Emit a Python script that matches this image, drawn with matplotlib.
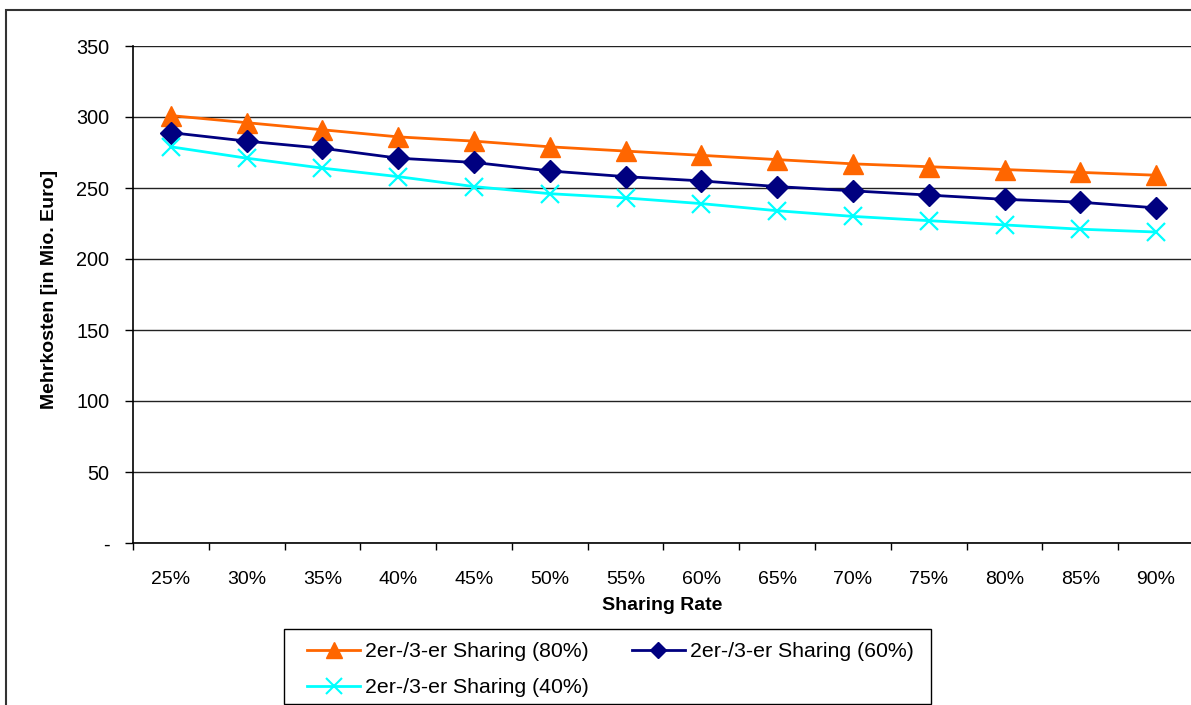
import matplotlib
matplotlib.use("Agg")
import matplotlib.pyplot as plt
from matplotlib.lines import Line2D
from matplotlib.patches import Rectangle

plt.rcParams['font.family'] = ['Liberation Sans', 'DejaVu Sans']

# Sharing rates on the category axis
categories = ["25%", "30%", "35%", "40%", "45%", "50%", "55%",
              "60%", "65%", "70%", "75%", "80%", "85%", "90%"]

# Additional costs in million euro per scenario
sharing_80 = [301, 296, 291, 286, 283, 279, 276, 273, 270, 267, 265, 263, 261, 259]
sharing_60 = [289, 283, 278, 271, 268, 262, 258, 255, 251, 248, 245, 242, 240, 236]
sharing_40 = [279, 271, 264, 258, 251, 246, 243, 239, 234, 230, 227, 224, 221, 219]

series_labels = ["2er-/3-er Sharing (80%)",
                 "2er-/3-er Sharing (60%)",
                 "2er-/3-er Sharing (40%)"]

y_ticks = [0, 50, 100, 150, 200, 250, 300, 350]
y_ticklabels = ["-", "50", "100", "150", "200", "250", "300", "350"]

W, H = 1191, 705
fig = plt.figure(figsize=(W / 100, H / 100), dpi=100)

# outer chart frame (right and bottom edges lie outside the canvas)
fig.patches.append(Rectangle((6 / W, -0.1), 1.2, 1 - 10 / H + 0.1,
                             transform=fig.transFigure, fill=False,
                             edgecolor="#333333", linewidth=1.5))

left, right, top, bottom = 133, 1194, 46, 543
ax = fig.add_axes([left / W, 1 - bottom / H, (right - left) / W, (bottom - top) / H])

x = list(range(len(categories)))
styles = [
    (sharing_80, "#FF6600", "^", 14, 1.0),
    (sharing_60, "#000080", "D", 11, 1.0),
    (sharing_40, "#00FFFF", "x", 13, 1.6),
]
for (vals, col, mk, ms, mew), lab in zip(styles, series_labels):
    ax.plot(x, vals, color=col, linewidth=2.0, marker=mk, markersize=ms,
            markeredgewidth=mew, markerfacecolor=col, markeredgecolor=col,
            label=lab, zorder=3)

ax.set_xlim(-0.5, len(categories) - 0.5)
ax.set_ylim(0, 350)
ax.set_yticks(y_ticks)
ax.set_yticklabels(y_ticklabels)
ax.set_xticks(x)
ax.set_xticklabels(categories)
ax.set_xticks([i - 0.5 for i in range(len(categories) + 1)], minor=True)
ax.tick_params(axis="x", which="major", length=0, pad=20, labelsize=14)
ax.tick_params(axis="x", which="minor", length=5, width=1, direction="out")
ax.tick_params(axis="y", length=6, width=1, direction="out", pad=11, labelsize=14.3)

ax.grid(axis="y", color="#222222", linewidth=1.0)
ax.set_axisbelow(True)
for s in ["top", "right"]:
    ax.spines[s].set_visible(False)
ax.spines["left"].set_linewidth(1.2)
ax.spines["bottom"].set_linewidth(1.2)

ax.set_ylabel("Mehrkosten [in Mio. Euro]", fontsize=14, fontweight="bold")
ax.yaxis.set_label_coords((50 - left) / (right - left), (bottom - 289) / (bottom - top))
ax.set_xlabel("Sharing Rate", fontsize=14, fontweight="bold")
ax.xaxis.set_label_coords((662 - left) / (right - left), (bottom - 605) / (bottom - top))
ax.xaxis.label.set_va("center")
ax.yaxis.label.set_va("center")

# legend frame
fig.patches.append(Rectangle((284 / W, 1 - 704 / H), (931 - 284) / W, (704 - 629) / H,
                             transform=fig.transFigure, fill=False,
                             edgecolor="black", linewidth=1.0))

h80 = Line2D([], [], color="#FF6600", lw=2.0, marker="^", ms=11, mfc="#FF6600", mec="#FF6600")
h60 = Line2D([], [], color="#000080", lw=2.0, marker="D", ms=8, mfc="#000080", mec="#000080")
h40 = Line2D([], [], color="#00FFFF", lw=2.0, marker="x", ms=12, mew=1.5, mec="#00FFFF")
# column-major fill: first column holds 80% and 40%, second column 60%
leg = fig.legend([h80, h40, h60], [series_labels[0], series_labels[2], series_labels[1]],
                 loc="upper left", bbox_to_anchor=(307 / W, 1 - 642 / H), ncol=2,
                 fontsize=15.3, frameon=False,
                 handlelength=2.5, handletextpad=0.25,
                 columnspacing=2.0, borderpad=0, labelspacing=0.82,
                 borderaxespad=0)

fig.savefig("out.png", dpi=100)
